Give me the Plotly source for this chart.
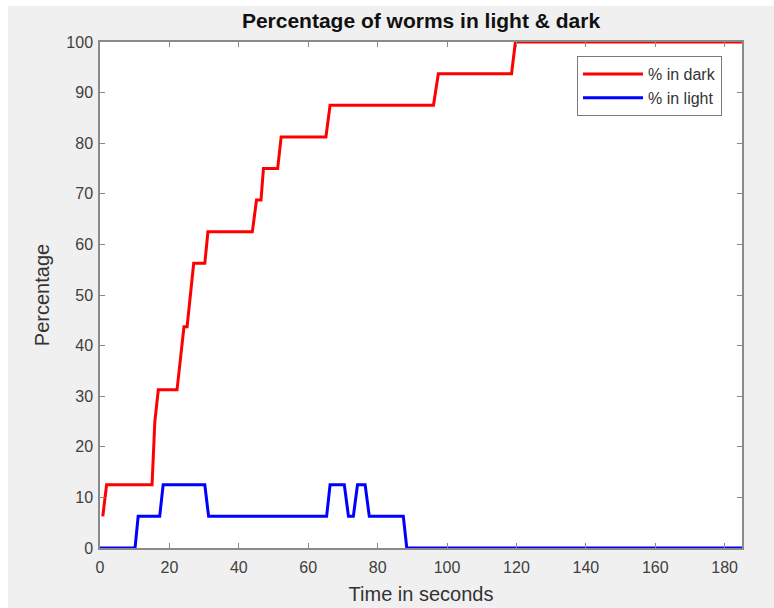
import plotly.graph_objects as go

# Data (percent of 16 worms)
dark_t = [0.8, 1.9, 15.0, 15.8, 16.8, 22.2, 24.2, 25.1, 27.0, 30.2, 31.1, 43.9, 45.1,
          46.4, 47.1, 51.2, 52.2, 65.1, 66.3, 96.1, 97.5, 118.6, 119.7, 185]
dark_v = [6.25, 12.5, 12.5, 25, 31.25, 31.25, 43.75, 43.75, 56.25, 56.25, 62.5, 62.5, 68.75,
          68.75, 75, 75, 81.25, 81.25, 87.5, 87.5, 93.75, 93.75, 100, 100]

light_t = [0, 10.1, 11.0, 17.2, 18.2, 30.2, 31.3, 65.3, 66.3, 70.4, 71.6, 73.0, 74.2,
           76.4, 77.6, 87.4, 88.4, 185]
light_v = [0, 0, 6.25, 6.25, 12.5, 12.5, 6.25, 6.25, 12.5, 12.5, 6.25, 6.25, 12.5,
           12.5, 6.25, 6.25, 0, 0]

x_ticks = [0, 20, 40, 60, 80, 100, 120, 140, 160, 180]
y_ticks = [0, 10, 20, 30, 40, 50, 60, 70, 80, 90, 100]

FONT = "Liberation Sans, Arial, sans-serif"
AX = "#8a8a8a"

fig = go.Figure()
fig.add_trace(go.Scatter(x=dark_t, y=dark_v, mode="lines", name="% in dark",
                         line=dict(color="#ff0000", width=3)))
fig.add_trace(go.Scatter(x=light_t, y=light_v, mode="lines", name="% in light",
                         line=dict(color="#0000ff", width=3)))

W, H = 774, 608
L, R, T, B = 100, 32, 42, 60
pw, ph = W - L - R, H - T - B

axis_common = dict(showgrid=False, zeroline=False, showline=True, linecolor=AX, linewidth=1.5,
                   mirror="ticks", ticks="inside", ticklen=5, tickcolor=AX, tickwidth=1,
                   automargin=False,
                   tickfont=dict(family=FONT, size=16, color="#404040"))

fig.update_layout(
    width=W, height=H,
    margin=dict(l=L, r=R, t=T, b=B),
    paper_bgcolor="#f0f0f0", plot_bgcolor="#ffffff",
    font=dict(family=FONT, color="#262626"),
    title=dict(text="<b>Percentage of worms in light &amp; dark</b>", x=(L + pw / 2) / W,
               xanchor="center", y=1 - 21 / H, yanchor="middle",
               font=dict(family=FONT, size=21, color="#111111")),
    xaxis=dict(range=[0, 185], tickvals=x_ticks, ticktext=[str(v) for v in x_ticks],
               ticklabelstandoff=4,
               title=dict(text="Time in seconds", font=dict(family=FONT, size=20, color="#333333"),
                          standoff=12),
               **axis_common),
    yaxis=dict(range=[0, 100], tickvals=y_ticks, ticktext=[str(v) for v in y_ticks],
               ticklabelstandoff=2,
               title=dict(text="Percentage", font=dict(family=FONT, size=20, color="#333333"),
                          standoff=11),
               **axis_common),
    legend=dict(x=(577 - L) / pw, y=1 - (56 - T) / ph, xanchor="left", yanchor="top",
                bgcolor="#ffffff", bordercolor="#7a7a7a", borderwidth=1,
                font=dict(family=FONT, size=16, color="#333333"),
                tracegroupgap=0, itemwidth=60),
    showlegend=True,
)

# white strips at the top and left edges of the image
fig.add_shape(type="rect", xref="paper", yref="paper",
              x0=-L / pw, x1=(W - L) / pw, y0=1 + (T - 6) / ph, y1=1 + T / ph,
              fillcolor="#ffffff", line=dict(width=0), layer="below")
fig.add_shape(type="rect", xref="paper", yref="paper",
              x0=-L / pw, x1=-(L - 8) / pw, y0=-B / ph, y1=1 + T / ph,
              fillcolor="#ffffff", line=dict(width=0), layer="below")

fig.write_html("out.html")
